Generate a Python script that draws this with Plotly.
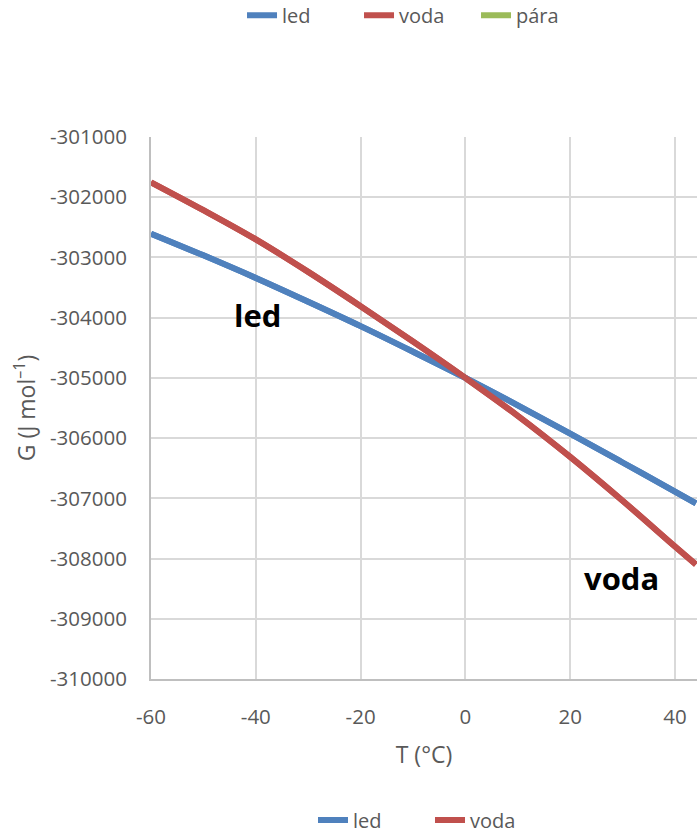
import plotly.graph_objects as go

# ---- data ----
T = [-60, -50, -40, -30, -20, -10, 0, 10, 20, 30, 40, 44]
G_led = [-302605, -302965, -303340, -303735, -304140, -304565, -305000,
         -305455, -305926, -306405, -306890, -307085]
G_voda = [-301752, -302215, -302700, -303240, -303810, -304395, -305000,
          -305630, -306312, -307040, -307800, -308100]
G_para_T = [None]
G_para = [None]

x_ticks = [-60, -40, -20, 0, 20, 40]
x_tick_labels = ["-60", "-40", "-20", "0", "20", "40"]
y_ticks = [-310000, -309000, -308000, -307000, -306000, -305000,
           -304000, -303000, -302000, -301000]
y_tick_labels = ["-310000", "-309000", "-308000", "-307000", "-306000",
                 "-305000", "-304000", "-303000", "-302000", "-301000"]

BLUE = "#4f81bd"
RED = "#c0504d"
GREEN = "#9bbb59"
TXT = "#595959"
FONT = "Open Sans"

fig = go.Figure()
lw = 6
# top legend
fig.add_trace(go.Scatter(x=T, y=G_led, name="led", mode="lines",
                         line=dict(color=BLUE, width=lw, shape="spline"),
                         legend="legend"))
fig.add_trace(go.Scatter(x=T, y=G_voda, name="voda", mode="lines",
                         line=dict(color=RED, width=lw, shape="spline"),
                         legend="legend"))
fig.add_trace(go.Scatter(x=G_para_T, y=G_para, name="pára", mode="lines",
                         line=dict(color=GREEN, width=lw),
                         legend="legend"))
# bottom legend (same series)
fig.add_trace(go.Scatter(x=T, y=G_led, name="led", mode="lines",
                         line=dict(color=BLUE, width=lw, shape="spline"),
                         legend="legend2"))
fig.add_trace(go.Scatter(x=T, y=G_voda, name="voda", mode="lines",
                         line=dict(color=RED, width=lw, shape="spline"),
                         legend="legend2"))

fig.add_annotation(x=-39.6, y=-303957, text="<b>led</b>", showarrow=False,
                   font=dict(family=FONT, size=31, color="black"))
fig.add_annotation(x=29.7, y=-308330, text="<b>voda</b>", showarrow=False,
                   font=dict(family=FONT, size=31, color="black"))

legend_common = dict(orientation="h", xanchor="left", yanchor="middle",
                     font=dict(family=FONT, size=20, color=TXT),
                     bgcolor="rgba(0,0,0,0)", entrywidth=72,
                     entrywidthmode="pixels")

fig.update_layout(
    width=697, height=834,
    margin=dict(l=151, r=0, t=137, b=155, autoexpand=False),
    paper_bgcolor="white", plot_bgcolor="white",
    font=dict(family=FONT, size=20, color=TXT),
    legend=dict(x=0.1667, y=1.2246, **legend_common),
    legend2=dict(x=0.2967, y=-0.26, **legend_common),
    xaxis=dict(range=[-60, 44.2], tickvals=x_ticks, ticktext=x_tick_labels,
               showgrid=True, gridcolor="#d9d9d9", gridwidth=2,
               showline=True, linecolor="#bfbfbf", linewidth=2,
               zeroline=False, ticks="outside", ticklen=18,
               tickcolor="rgba(0,0,0,0)",
               tickfont=dict(family=FONT, size=20.5, color=TXT),
               title=dict(text="T (°C)", standoff=18,
                          font=dict(family=FONT, size=23, color=TXT))),
    yaxis=dict(range=[-310000, -301000], tickvals=y_ticks,
               ticktext=y_tick_labels,
               showgrid=True, gridcolor="#d9d9d9", gridwidth=2,
               showline=True, linecolor="#bfbfbf", linewidth=2,
               zeroline=False, ticks="outside", ticklen=18,
               tickcolor="rgba(0,0,0,0)",
               tickfont=dict(family=FONT, size=20.5, color=TXT),
               title=dict(text="G (J mol<sup>–1</sup>)", standoff=8,
                          font=dict(family=FONT, size=23, color=TXT))),
)

fig.write_html("out.html", config={"displayModeBar": False},
               post_script="document.body.style.margin='0';")
